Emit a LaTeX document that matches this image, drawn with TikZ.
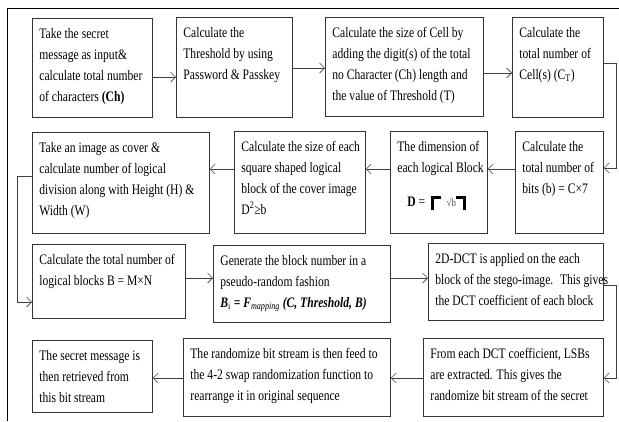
\documentclass[tikz,border=0pt]{standalone}
\usepackage{fontspec}
\setmainfont[FakeStretch=0.8]{Liberation Serif}
\usetikzlibrary{arrows.meta}

\newcommand{\cell}[3]{\parbox[c][#2][t]{#1}{\begin{tabular}[t]{@{}l@{}}#3\end{tabular}}}
\newcommand{\ceilL}{\rlap{\rule[7.5pt]{10pt}{2.6pt}}\rule[-4pt]{2.6pt}{14pt}}
\newcommand{\ceilR}{\rule[7.5pt]{10pt}{2.6pt}\llap{\rule[-4pt]{2.6pt}{14pt}}}

\begin{document}
\begin{tikzpicture}[x=1pt, y=-1pt,
    box/.style={draw=black!80, line width=0.8pt, anchor=north west,
        inner xsep=7pt, inner ysep=5pt,
        font=\fontsize{14.5pt}{21pt}\selectfont},
    link/.style={draw=black!75, line width=0.6pt,
        -{Straight Barb[length=5pt,width=10pt]}}]
    \useasboundingbox (0,0) rectangle (619,421);
    \draw[line width=1pt] (619,8) -- (7,8) -- (7,421);

    % first row
    \node[box] (take) at (32,18) {\cell{106pt}{89pt}{Take the secret\\ message as input\&\\ calculate total number\\ of characters \textbf{(Ch)}}};
    \node[box] (thresh) at (176,17) {\cell{102pt}{90pt}{Calculate the\\ Threshold by using\\ Password \& Passkey}};
    \node[box] (cellsize) at (325,17) {\cell{144pt}{89pt}{Calculate the size of Cell by\\ adding the digit(s) of the total\\ no Character (Ch) length and\\ the value of Threshold (T)}};
    \node[box] (cells) at (512,17) {\cell{77pt}{90pt}{Calculate the\\ total number of\\ Cell(s) (C\textsubscript{T})}};

    % second row
    \node[box] (bits) at (515,131) {\cell{74pt}{92pt}{Calculate the\\ total number of\\ bits (b) = C×7}};
    \node[box] (dim) at (390,131) {\cell{83pt}{92pt}{The dimension of\\ each logical Block\\[13pt]
        \hspace*{10pt}\textbf{D} = \hspace{3pt}\ceilL\hspace{13pt}{\fontsize{11pt}{11pt}\selectfont\color{black!70}√b}\ceilR}};
    \node[box] (square) at (234,131) {\cell{117pt}{92pt}{Calculate the size of each\\ square shaped logical\\ block of the cover image\\ D\textsuperscript{2}≥b}};
    \node[box] (cover) at (32,132) {\cell{163pt}{91pt}{Take an image as cover \&\\ calculate number of logical\\ division along with Height (H) \&\\ Width (W)}};

    % third row
    \node[box] (blocks) at (32,244) {\cell{139pt}{64pt}{Calculate the total number of\\ logical blocks B = M×N}};
    \node[box] (gen) at (213,245) {\cell{163pt}{67pt}{Generate the block number in a\\ pseudo-random fashion\\
        \textbf{\textit{B}}\textsubscript{i} \textbf{\textit{= F}}\textsubscript{\textit{mapping}} \textbf{\textit{(C, Threshold, B)}}}};
    \node[box] (dct) at (428,243) {\cell{161pt}{67pt}{2D-DCT is applied on the each\\ block of the stego-image.~ This gives\\ the DCT coefficient of each block}};

    % fourth row
    \node[box] (extract) at (423,338) {\cell{166pt}{68pt}{From each DCT coefficient, LSBs\\ are extracted. This gives the\\ randomize bit stream of the secret}};
    \node[box] (reorder) at (183,338) {\cell{193pt}{68pt}{The randomize bit stream is then feed to\\ the 4-2 swap randomization function to\\ rearrange it in original sequence}};
    \node[box] (secret) at (32,340) {\cell{106pt}{62pt}{The secret message is\\ then retrieved from\\ this bit stream}};

    \draw[link] (take.east |- 0,77) -- (thresh.west |- 0,77);
    \draw[link] (thresh.east |- 0,68) -- (cellsize.west |- 0,68);
    \draw[link] (cellsize.east |- 0,73) -- (cells.west |- 0,73);
    \draw[link] (cells.east |- 0,63) -- ++(12,0) |- (bits.east |- 0,168);
    \draw[link] (bits.west |- 0,169) -- (dim.east |- 0,169);
    \draw[link] (dim.west |- 0,169) -- (square.east |- 0,169);
    \draw[link] (square.west |- 0,169) -- (cover.east |- 0,169);
    \draw[link] (cover.west |- 0,176) -- ++(-15,0) |- (blocks.west |- 0,302);
    \draw[link] (blocks.east |- 0,278) -- (gen.west |- 0,278);
    \draw[link] (gen.east |- 0,278) -- (dct.west |- 0,278);
    \draw[link] (dct.east |- 0,285) -- ++(12,0) |- (extract.east |- 0,378);
    \draw[link] (extract.west |- 0,378) -- (reorder.east |- 0,378);
    \draw[link] (reorder.west |- 0,378) -- (secret.east |- 0,378);
\end{tikzpicture}
\end{document}
